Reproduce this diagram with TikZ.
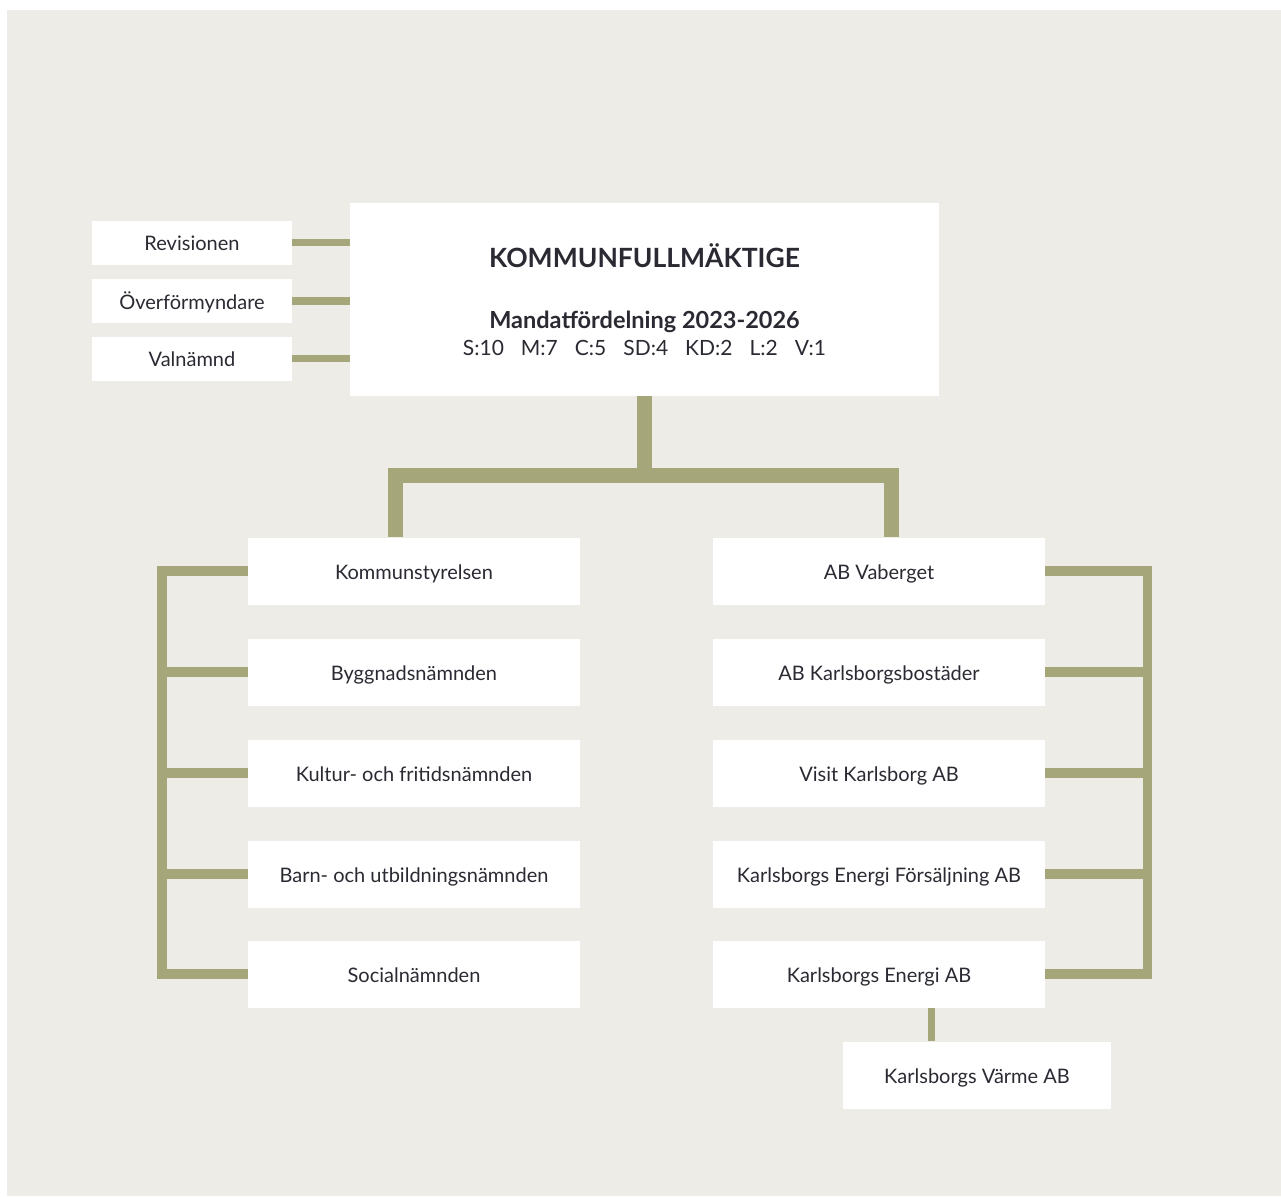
\documentclass[tikz,border=0pt]{standalone}
\usepackage{fontspec}
\setmainfont{Lato}
\definecolor{beige}{HTML}{EEECE7}
\definecolor{olive}{HTML}{A5A77B}
\definecolor{ink}{HTML}{2B2A33}
\begin{document}
\begin{tikzpicture}[x=1pt,y=-1pt,
  box/.style={fill=white, draw=none, inner sep=0pt, text=ink, font=\fontsize{20}{24}\selectfont, minimum width=332pt, minimum height=67pt, text height=16.4pt, text depth=0pt},
  smallbox/.style={box, minimum width=200pt, minimum height=44pt},
  label/.style={text=ink, inner sep=0pt, text depth=0pt},
  trunk/.style={draw=olive, line width=15pt, line join=miter},
  bus/.style={draw=olive, line width=9.5pt, line join=miter},
  tie/.style={draw=olive, line width=7.5pt}]
\path[fill=white] (0,0) rectangle (1281,1196);
\fill[beige] (7,10) rectangle (1281,1196);
% main box
\node[fill=white, inner sep=0pt, minimum width=589pt, minimum height=193pt] (kf) at (644.5,299.5) {};
\node[label, font=\fontsize{26.5}{30}\selectfont\bfseries, text height=19pt] (title) at (644.5,257.5) {KOMMUNFULLMÄKTIGE};
\node[label, font=\fontsize{23.5}{27}\selectfont\bfseries, text height=17pt] (mandat) at (644.5,319.5) {Mandatfördelning 2023-2026};
\node[label, font=\fontsize{21}{25}\selectfont, text height=15pt] (seats) at (644.5,347.5) {S:10\hspace{17pt}M:7\hspace{17pt}C:5\hspace{17pt}SD:4\hspace{17pt}KD:2\hspace{17pt}L:2\hspace{17pt}V:1};
% small boxes
\node[smallbox] (rev) at (192,242.5) {Revisionen};
\node[smallbox] (ovf) at (192,301) {Överförmyndare};
\node[smallbox] (val) at (192,358.5) {Valnämnd};
% left column
\node[box] (ks) at (414,571) {Kommunstyrelsen};
\node[box] (bn) at (414,672) {Byggnadsnämnden};
\node[box] (kfn) at (414,773) {Kultur- och fritidsnämnden};
\node[box] (bun) at (414,874) {Barn- och utbildningsnämnden};
\node[box] (sn) at (414,974) {Socialnämnden};
% right column
\node[box] (abv) at (879,571) {AB Vaberget};
\node[box] (abk) at (879,672) {AB Karlsborgsbostäder};
\node[box] (vk) at (879,773) {Visit Karlsborg AB};
\node[box] (kef) at (879,874) {Karlsborgs Energi Försäljning AB};
\node[box] (kea) at (879,974) {Karlsborgs Energi AB};
\node[box, minimum width=268pt] (kv) at (977,1075) {Karlsborgs Värme AB};
% junction coordinates
\coordinate (jm) at (644.5,475.5);
\coordinate (jl) at (395,475.5);
\coordinate (jr) at (891.5,475.5);
\coordinate (lb) at (162,0);
\coordinate (rb) at (1147.5,0);
\coordinate (vx) at (931.5,0);
% connectors
\draw[trunk] (kf.south -| jm) -- (jm);
\draw[trunk] (ks.north -| jl) -- (jl) -- (jr) -- (abv.north -| jr);
\draw[tie] (rev.east) -- (rev.east -| kf.west);
\draw[tie] (ovf.east) -- (ovf.east -| kf.west);
\draw[tie] (val.east) -- (val.east -| kf.west);
\draw[bus] (ks.west) -- (ks.west -| lb) -- (sn.west -| lb) -- (sn.west);
\draw[bus] (bn.west) -- (bn.west -| lb);
\draw[bus] (kfn.west) -- (kfn.west -| lb);
\draw[bus] (bun.west) -- (bun.west -| lb);
\draw[bus] (abv.east) -- (abv.east -| rb) -- (kea.east -| rb) -- (kea.east);
\draw[bus] (abk.east) -- (abk.east -| rb);
\draw[bus] (vk.east) -- (vk.east -| rb);
\draw[bus] (kef.east) -- (kef.east -| rb);
\draw[tie] (kea.south -| vx) -- (kv.north -| vx);
\end{tikzpicture}
\end{document}
